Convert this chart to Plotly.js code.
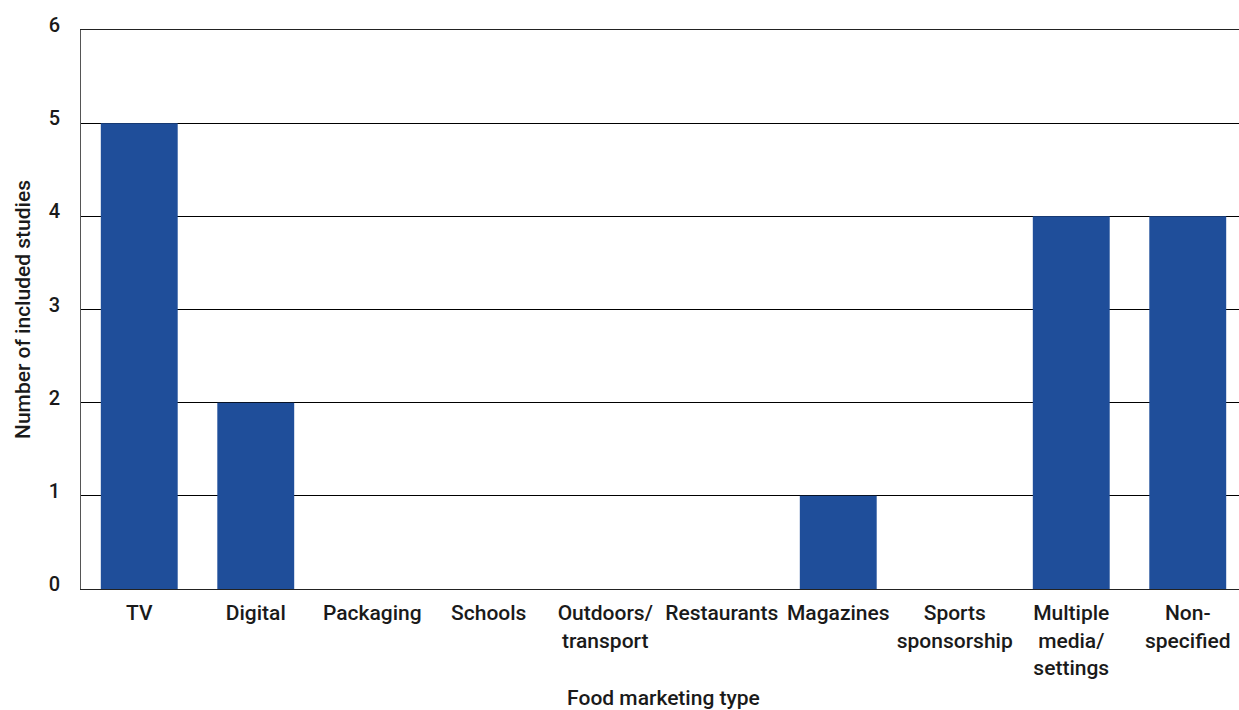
<!DOCTYPE html>
<html><head><meta charset="utf-8">
<script src="https://cdn.plot.ly/plotly-3.0.1.min.js"></script>
<style>html,body{margin:0;padding:0;overflow:hidden;background:#fff}#chart{width:1246px;height:710px}</style>
</head><body><div id="chart"></div>
<script>
const categories = ["TV","Digital","Packaging","Schools","Outdoors/<br>transport","Restaurants","Magazines","Sports<br>sponsorship","Multiple<br>media/<br>settings","Non-<br>specified"];
const studies = [5,2,0,0,0,0,1,0,4,4];
const yTicks = [0,1,2,3,4,5,6];

const font = {family:"Roboto, 'DejaVu Sans', sans-serif", size:21, color:"#1a1a1a", weight:500};
Plotly.newPlot("chart",[{
  type:"bar", x:categories, y:studies,
  marker:{color:"#1f4e9a"}, hoverinfo:"x+y"
}],{
  width:1246, height:710,
  margin:{l:81,r:0,t:30,b:121},
  paper_bgcolor:"#fff", plot_bgcolor:"#fff",
  bargap:0.34,
  font:font,
  showlegend:false,
  xaxis:{
    type:"category", showgrid:false, showline:true, mirror:true, linecolor:"#222", linewidth:1,
    ticks:"", ticklabelstandoff:5, tickfont:{...font},
    title:{text:"Food marketing type", font:{...font}, standoff:14},
    automargin:false
  },
  yaxis:{
    range:[0,6], tickvals:yTicks, ticktext:yTicks.map(String),
    showgrid:true, gridcolor:"#000", gridwidth:1,
    zeroline:false, showline:true, linecolor:"#555", linewidth:1,
    ticks:"", ticklabelstandoff:16, ticklabelshift:-5,
    tickfont:{...font, size:20},
    title:{text:"Number of included studies", font:{...font}, standoff:12},
    automargin:false
  }
},{displayModeBar:false, staticPlot:true});
</script></body></html>
